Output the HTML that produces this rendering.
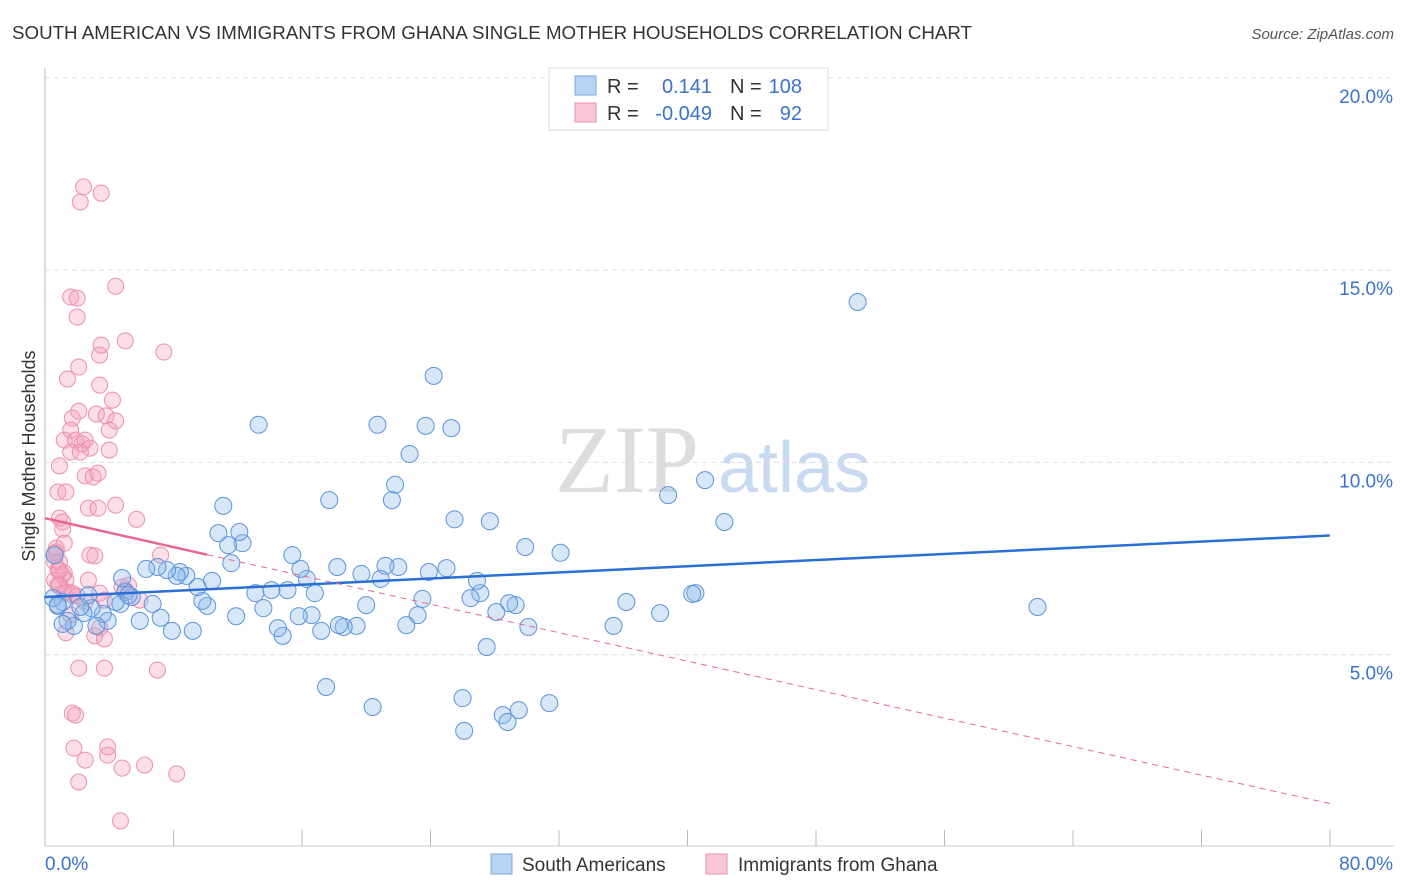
<!DOCTYPE html>
<html><head><meta charset="utf-8"><style>
body{margin:0;background:#fff;font-family:"Liberation Sans",sans-serif;}
svg{display:block}
</style></head><body>
<svg id="c" width="1406" height="892">
<text x="12" y="39" font-size="18.5" fill="#333" textLength="960" lengthAdjust="spacingAndGlyphs">SOUTH AMERICAN VS IMMIGRANTS FROM GHANA SINGLE MOTHER HOUSEHOLDS CORRELATION CHART</text>
<text x="1394" y="39" font-size="15" fill="#555" font-style="italic" text-anchor="end">Source: ZipAtlas.com</text>
<text x="35" y="456" font-size="18" fill="#333" transform="rotate(-90 35 456)" text-anchor="middle">Single Mother Households</text>
<text x="555" y="492" font-size="96" fill="#ddd" font-family="Liberation Serif,serif">ZIP</text>
<text x="718" y="492" font-size="72" fill="#c8daf0">atlas</text>
<g id="grid"></g><g id="pts"></g><g id="lines"></g>
<g>
<rect x="549" y="68" width="279" height="62" fill="#fff" stroke="#ddd"/>
<rect x="575" y="76" width="21" height="19" fill="#b8d3f3" stroke="#7aa8e0"/>
<rect x="575" y="103" width="21" height="19" fill="#f9c6d5" stroke="#ec8fab"/>
<text x="607" y="93" font-size="20" fill="#333">R =</text><text x="712" y="93" font-size="20" fill="#3a72cc" text-anchor="end">0.141</text>
<text x="730" y="93" font-size="20" fill="#333">N =</text><text x="802" y="93" font-size="20" fill="#3a72cc" text-anchor="end">108</text>
<text x="607" y="120" font-size="20" fill="#333">R =</text><text x="712" y="120" font-size="20" fill="#3a72cc" text-anchor="end">-0.049</text>
<text x="730" y="120" font-size="20" fill="#333">N =</text><text x="802" y="120" font-size="20" fill="#3a72cc" text-anchor="end">92</text>
</g>
<g>
<rect x="491" y="854" width="21" height="20" fill="#b8d3f3" stroke="#7aa8e0"/>
<text x="522" y="871" font-size="19" fill="#333">South Americans</text>
<rect x="706" y="854" width="21" height="20" fill="#f9c6d5" stroke="#ec8fab"/>
<text x="738" y="871" font-size="19" fill="#333">Immigrants from Ghana</text>
</g>
</svg>
<script>
const blueX=[13.3,20.7,24.2,23.7,25.3,22.7,21.8,21.6,17.7,11.1,25.5,27.7,29.9,32.1,38.8,41.1,42.3,50.6,61.8,40.5,40.3,36.2,38.3,35.4,30.1,29.3,28.9,28.1,27.5,27.1,26.9,26.5,25.0,23.9,23.5,23.2,22.5,22.0,21.2,20.9,20.0,19.7,19.4,18.6,18.3,18.2,17.2,16.8,16.6,16.3,15.9,15.8,15.4,15.1,14.8,14.5,14.1,13.6,13.1,11.9,12.3,12.1,10.8,11.4,11.6,10.4,10.1,9.8,9.5,9.2,8.8,8.4,8.2,7.9,7.6,7.2,7.0,6.7,6.3,5.9,5.4,5.0,4.7,4.8,4.4,3.9,3.6,3.2,2.9,2.4,2.2,1.8,1.4,1.1,0.8,0.5,2.7,0.6,17.5,20.4,26.0,26.1,28.5,28.8,29.5,31.4,5.2,0.8,1.1];
const blueY=[10.98,10.98,12.25,10.95,10.89,10.22,9.42,9.02,9.02,8.87,8.52,8.47,7.8,7.65,9.15,9.54,8.45,14.17,6.24,6.6,6.58,6.37,6.08,5.75,5.72,6.29,6.34,6.11,5.2,6.6,6.92,6.47,7.25,7.15,6.45,6.03,5.77,7.28,7.31,6.97,6.29,7.1,5.75,5.72,5.77,7.28,5.62,6.6,6.03,6.97,7.23,6.0,7.59,6.68,5.49,5.69,6.68,6.21,6.6,6.0,7.9,8.19,8.16,7.85,7.38,6.92,6.27,6.4,6.76,5.62,7.05,7.15,7.05,5.62,7.2,5.96,7.28,6.32,7.23,5.88,6.5,6.63,6.32,6.99,6.37,5.88,6.06,5.75,6.21,6.08,6.24,5.75,5.88,6.37,6.27,6.47,6.55,7.59,4.16,3.64,3.87,3.02,3.43,3.25,3.56,3.74,6.55,6.3,5.8];
const pinkX=[2.4,2.2,3.5,4.4,1.6,2.0,2.0,5.0,7.4,3.5,3.4,2.1,1.4,3.4,4.2,2.1,1.7,3.2,3.8,4.4,4.0,1.6,1.2,1.9,2.3,2.5,2.8,4.0,1.6,2.2,2.5,3.0,3.3,0.9,0.8,1.3,2.7,3.3,4.4,0.9,1.1,5.7,0.7,0.7,0.6,0.9,0.8,1.1,1.2,1.3,2.8,3.1,0.6,0.8,1.4,1.7,0.9,1.2,4.8,5.0,5.2,3.7,1.6,3.1,3.7,1.3,2.1,3.7,7.0,1.7,1.9,1.8,2.5,3.9,3.9,4.8,6.2,8.2,2.1,4.7,7.2,3.4,2.7,1.1,3.4,5.9,0.9,0.6,1.2,1.7,2.5,2.0];
const pinkY=[17.16,16.77,17.0,14.58,14.3,14.27,13.78,13.16,12.87,13.05,12.79,12.48,12.17,12.01,11.62,11.33,11.15,11.26,11.21,11.08,10.84,10.84,10.58,10.58,10.48,10.58,10.37,10.32,10.27,10.27,9.65,9.62,9.72,9.91,9.23,9.23,8.81,8.81,8.89,8.55,8.45,8.52,7.77,7.67,7.41,7.41,7.2,7.07,7.12,6.94,7.59,7.57,6.94,6.81,6.63,6.55,6.81,6.6,6.76,6.68,6.81,6.42,6.03,5.49,5.41,5.57,4.65,4.65,4.6,3.48,3.43,2.57,2.26,2.6,2.39,2.05,2.13,1.9,1.69,0.68,7.59,6.6,6.94,8.26,5.7,6.42,7.2,7.64,7.9,6.6,6.37,6.53];
const yTicks=[5,10,15,20], xTickLabels=["0.0%","80.0%"];
const X=v=>45+v*16.06, Y=v=>847-v*38.46, NS="http://www.w3.org/2000/svg";
function mk(t,a,p){const e=document.createElementNS(NS,t);for(const k in a)e.setAttribute(k,a[k]);p.appendChild(e);return e;}
const g=document.getElementById('grid');
mk('line',{x1:45,y1:68,x2:45,y2:846,stroke:'#bbb'},g);
mk('line',{x1:45,y1:846,x2:1394,y2:846,stroke:'#ccc'},g);
for(let i=0;i<=10;i++){const l=mk('line',{x1:45+i*128.5,y1:830,x2:45+i*128.5,y2:846,stroke:'#bbb'},g);}
yTicks.forEach(t=>{const l=mk('line',{x1:45,y1:Y(t),x2:1394,y2:Y(t),stroke:'#ddd','stroke-dasharray':'5,4'},g);


const tx=mk('text',{x:1393,y:Y(t)+25,'font-size':19,fill:'#3a72cc','text-anchor':'end'},g);tx.textContent=t.toFixed(1)+'%';

});
[[45,'start',0],[1393,'end',1]].forEach(([x,a,i])=>{const tx=mk('text',{x:x,y:870,'font-size':19,fill:'#3a72cc','text-anchor':a},g);tx.textContent=xTickLabels[i];

});
const p=document.getElementById('pts');
pinkX.forEach((v,i)=>{const c=mk('circle',{cx:X(v),cy:Y(pinkY[i]),r:8,fill:'rgba(244,160,188,0.35)',stroke:'#ec8fab','stroke-width':1},p);

});
blueX.forEach((v,i)=>{const c=mk('circle',{cx:X(v),cy:Y(blueY[i]),r:8.5,fill:'rgba(140,185,235,0.35)',stroke:'#5b93db','stroke-width':1},p);

});
const L=document.getElementById('lines');
let l=mk('line',{x1:X(0),y1:Y(6.5),x2:X(80),y2:Y(8.1),stroke:'#2a6fd4','stroke-width':2.5},L);


l=mk('line',{x1:X(0),y1:Y(8.55),x2:X(10.1),y2:Y(7.6),stroke:'#e8668f','stroke-width':2.5},L);


l=mk('line',{x1:X(10.1),y1:Y(7.6),x2:X(80),y2:Y(1.13),stroke:'#e8668f','stroke-width':1,'stroke-dasharray':'6,5'},L);


</script>
</body></html>
